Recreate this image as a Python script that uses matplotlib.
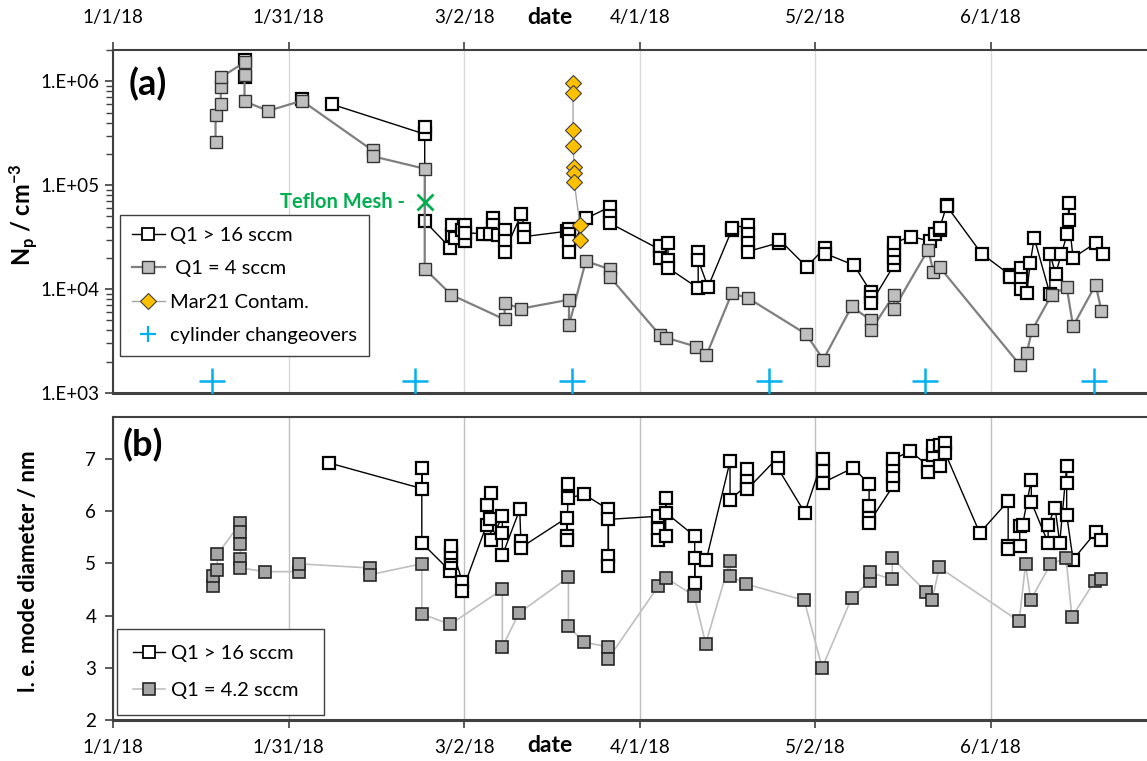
import matplotlib
matplotlib.use("Agg")
import matplotlib.pyplot as plt
import numpy as np
from matplotlib.lines import Line2D
from matplotlib.ticker import FixedLocator, LogLocator, NullFormatter

plt.rcParams['font.family'] = ['Lato', 'DejaVu Sans']
plt.rcParams['mathtext.default'] = 'regular'

nan = np.nan

# x values are days after 1/1/18 (Excel major unit ~30.3 days)
tick_days = [0, 30.3, 60.6, 90.9, 121.2, 151.5]
tick_labels = ['1/1/18', '1/31/18', '3/2/18', '4/1/18', '5/2/18', '6/1/18']

# (a) number concentration, Q1 > 16 sccm
np_hi_day = [22.7, 22.7, nan, 32.6, nan,
             37.8, 53.8, 53.8, 53.8,
             58.2, 58.5, 58.5, 59.0, 60.2, 60.7, 60.7, 60.7,
             63.9, 65.6, 65.6, 65.1, 66.4, 67.6, 67.6, 67.6,
             70.5, 71.0, 71.0, 78.3, 78.7, 78.7, 78.7, 78.7,
             81.7, 85.8, 85.8, 85.8,
             94.4, 94.4, 94.4, 95.8, 95.8, 95.8,
             101.0, 101.0, 101.0, 102.7, 106.8, 106.8,
             109.6, 109.6, 109.6, 109.6, 115.0, 115.0, 119.7,
             122.9, 122.9, 127.9, 130.8, 130.8, 130.8,
             134.8, 134.8, 134.8, 134.8, 137.8, 141.0, 141.8,
             142.7, 142.7, 143.9, 143.9, 149.9,
             154.8, 154.8, 156.8, 156.8, 156.8, 157.7, 158.3, 159.0,
             161.7, 161.7, 162.7, 163.7, 164.7, 165.0, 165.0, 165.7,
             169.7, 170.8]
np_hi_val = [1.6e6, 1.1e6, nan, 6.8e5, nan,
             6.0e5, 3.1e5, 3.6e5, 4.5e4,
             2.5e4, 3.3e4, 4.1e4, 3.1e4, 3.7e4, 2.9e4, 4.1e4, 3.5e4,
             3.4e4, 4.8e4, 4.1e4, 3.4e4, 3.3e4, 3.7e4, 2.9e4, 2.3e4,
             5.3e4, 3.8e4, 3.2e4, 3.6e4, 3.8e4, 3.4e4, 2.9e4, 2.3e4,
             4.8e4, 6.2e4, 5.1e4, 4.3e4,
             2.4e4, 2.6e4, 2.0e4, 2.8e4, 1.9e4, 1.6e4,
             1.02e4, 2.3e4, 1.9e4, 1.05e4, 3.7e4, 3.9e4,
             4.1e4, 3.4e4, 2.8e4, 2.3e4, 2.8e4, 3.0e4, 1.64e4,
             2.5e4, 2.2e4, 1.7e4, 9.4e3, 8.4e3, 7.3e3,
             1.7e4, 2.0e4, 2.4e4, 2.8e4, 3.2e4, 2.9e4, 3.4e4,
             3.7e4, 3.9e4, 6.4e4, 6.3e4, 2.2e4,
             1.37e4, 1.3e4, 1.6e4, 1.25e4, 1.0e4, 9.2e3, 1.77e4, 3.1e4,
             9.0e3, 2.2e4, 1.4e4, 2.2e4, 3.4e4, 6.7e4, 4.6e4, 2.0e4,
             2.8e4, 2.2e4]

# (a) number concentration, Q1 = 4 sccm
np_lo_day = [17.7, 17.7, 18.6, 18.6, 18.6, 22.7, 22.7, 22.7, 26.8, 32.6,
             44.8, 44.8, 53.8, 53.8, 58.4, 67.6, 67.6, 70.5, 78.7, 78.7,
             81.6, 85.8, 85.8, 94.4, 95.5, 100.6, 102.4, 106.8, 109.6,
             119.6, 122.6, 127.5, 130.8, 130.8, 134.8, 134.8,
             140.7, 141.6, 142.7, 156.5, 157.7, 158.6, 162.0, 164.6,
             165.7, 169.6, 170.6]
np_lo_val = [2.6e5, 4.7e5, 6.1e5, 8.9e5, 1.09e6, 1.52e6, 1.15e6, 6.4e5, 5.2e5, 6.5e5,
             2.16e5, 1.9e5, 1.44e5, 1.57e4, 8.8e3, 5.1e3, 7.3e3, 6.5e3, 7.9e3, 4.5e3,
             1.86e4, 1.55e4, 1.3e4, 3.6e3, 3.4e3, 2.8e3, 2.3e3, 9.1e3, 8.2e3,
             3.7e3, 2.1e3, 6.8e3, 5.0e3, 4.0e3, 8.8e3, 6.5e3,
             2.4e4, 1.47e4, 1.62e4, 1.87e3, 2.4e3, 4.0e3, 8.8e3, 1.05e4,
             4.4e3, 1.1e4, 6.2e3]

# Mar21 contamination
contam_day = [79.4, 79.4, 79.4, 79.4, 79.6, 79.6, 79.6, 80.6, 80.6]
contam_val = [9.6e5, 7.7e5, 3.4e5, 2.4e5, 1.48e5, 1.32e5, 1.07e5, 4.1e4, 3.0e4]

# cylinder changeovers
cyl_day = [17.1, 52.1, 79.2, 113.2, 140.2, 169.3]
cyl_val = [1.3e3] * 6

teflon_day = 53.8
teflon_val = 6.9e4

# (b) mode diameter, Q1 > 16 sccm
d_hi_day = [37.3, 53.3, 53.3, 53.3, 58.2, 58.4, 58.4, 58.4, 58.4, 60.3, 60.3,
            64.5, 64.5, 65.3, 65.0, 65.3, 67.2, 67.2, 67.2, 70.2, 70.4, 70.4,
            78.3, 78.3, 78.3, 78.6, 78.6, 81.3, 85.5, 85.5, 85.5, 85.5,
            94.1, 94.1, 94.1, 95.4, 95.4, 95.4, 100.4, 100.4, 100.4, 102.4,
            106.5, 106.5, 109.5, 109.5, 109.5, 109.5, 114.7, 114.7, 119.4,
            122.5, 122.5, 122.5, 127.8, 130.5, 130.5, 130.5, 130.5,
            134.7, 134.7, 134.7, 134.7, 137.6, 140.7, 140.7, 141.5, 141.5,
            142.7, 142.7, 143.6, 143.6, 149.6, 154.5, 154.5, 154.5,
            156.5, 156.5, 157.0, 158.5, 158.5, 161.4, 161.4, 162.6, 163.4,
            164.6, 164.6, 164.6, 165.7, 169.6, 170.5]
d_hi_val = [6.92, 6.43, 6.83, 5.39, 4.85, 5.0, 5.13, 5.2, 5.33, 4.64, 4.47,
            5.74, 6.12, 6.34, 5.84, 5.45, 5.9, 5.58, 5.15, 6.03, 5.42, 5.3,
            5.87, 5.52, 5.44, 6.51, 6.25, 6.32, 6.03, 5.13, 4.94, 5.84,
            5.9, 5.65, 5.45, 5.52, 6.25, 5.97, 5.52, 4.62, 5.1, 5.07,
            6.95, 6.22, 6.5, 6.6, 6.8, 6.42, 7.02, 6.83, 5.97,
            6.99, 6.76, 6.54, 6.83, 6.51, 6.09, 5.87, 5.78,
            6.49, 6.68, 6.87, 6.99, 7.15, 6.86, 6.74, 7.08, 7.24,
            6.86, 7.27, 7.31, 7.12, 5.58, 6.19, 5.33, 5.27,
            5.33, 5.71, 5.74, 6.6, 6.17, 5.39, 5.74, 6.06, 5.39,
            6.86, 6.54, 5.93, 5.07, 5.59, 5.45]

# (b) mode diameter, Q1 = 4.2 sccm
d_lo_day = [17.3, 17.3, 18.0, 18.0, 22.0, 22.0, 22.0, 22.0, 22.0, 26.3,
            32.1, 32.1, 44.3, 44.3, 53.3, 53.3, 58.2, 67.2, 67.2, 70.1,
            78.6, 78.6, 81.3, 85.4, 85.4, 94.1, 95.4, 100.3, 102.3,
            106.5, 106.5, 109.3, 119.3, 122.4, 127.5, 130.6, 130.6,
            134.5, 134.5, 140.4, 141.4, 142.6, 156.4, 157.5, 158.4,
            161.8, 164.5, 165.5, 169.5, 170.5]
d_lo_val = [4.56, 4.76, 4.88, 5.17, 5.77, 5.59, 5.36, 5.08, 4.91, 4.84,
            4.84, 4.99, 4.91, 4.78, 4.99, 4.03, 3.83, 4.5, 3.4, 4.05,
            4.73, 3.79, 3.49, 3.4, 3.16, 4.56, 4.72, 4.38, 3.46,
            5.05, 4.76, 4.6, 4.29, 3.0, 4.34, 4.66, 4.83,
            4.69, 5.1, 4.45, 4.3, 4.92, 3.89, 4.98, 4.3,
            4.98, 5.1, 3.97, 4.67, 4.69]

W, H = 1147, 761
fig = plt.figure(figsize=(W / 100, H / 100), dpi=100)
ax1 = fig.add_axes([113 / W, 1 - 393 / H, 1040 / W, 343 / H])
ax2 = fig.add_axes([113 / W, 1 - 720 / H, 1040 / W, 303 / H])

spine_col = '#404040'
hi_style = dict(color='black', lw=1.0, marker='s', ms=9, mfc='white', mec='black', mew=1.6)

# ---- panel (a)
ax1.plot(np_hi_day, np_hi_val, zorder=3, **hi_style)
ax1.plot(np_lo_day, np_lo_val, color='#7F7F7F', lw=1.6, marker='s', ms=9,
         mfc='#BFBFBF', mec='#333333', mew=1.0, zorder=4)
ax1.plot(contam_day, contam_val, color='#A6A6A6', lw=1.0, marker='D', ms=8,
         mfc='#FFC000', mec='#404040', mew=0.8, zorder=5)
ax1.plot(cyl_day, cyl_val, ls='none', marker='+', ms=19, mew=1.8, color='#00B0F0', zorder=5)
ax1.plot([teflon_day], [teflon_val], ls='none', marker='x', ms=11, mew=2, color='#00B050', zorder=6)
ax1.text(50.4, teflon_val, 'Teflon Mesh -', color='#00B050', fontsize=14.5, fontweight='bold',
         ha='right', va='center')

ax1.set_yscale('log')
ax1.set_ylim(1e3, 2e6)
ax1.set_xlim(0, 179.5)
ax1.yaxis.set_major_locator(FixedLocator([1e3, 1e4, 1e5, 1e6]))
ax1.set_yticklabels(['1.E+03', '1.E+04', '1.E+05', '1.E+06'])
ax1.yaxis.set_minor_locator(LogLocator(base=10, subs=np.arange(2, 10)))
ax1.yaxis.set_minor_formatter(NullFormatter())
ax1.set_xticks(tick_days)
ax1.set_xticklabels(tick_labels)
ax1.xaxis.tick_top()
ax1.tick_params(axis='x', which='both', direction='out', length=6, width=1.2,
                color=spine_col, pad=11, labelsize=13.5)
ax1.tick_params(axis='y', which='major', direction='out', length=6, width=1.2,
                color=spine_col, pad=4, labelsize=13.5)
ax1.tick_params(axis='y', which='minor', direction='out', length=5, width=1.0, color=spine_col)
ax1.grid(True, axis='x', color='#D9D9D9', lw=1.0)
ax1.set_axisbelow(True)
ax1.spines['right'].set_visible(False)
ax1.spines['top'].set_color(spine_col)
ax1.spines['top'].set_linewidth(1.5)
ax1.spines['left'].set_color(spine_col)
ax1.spines['left'].set_linewidth(1.5)
ax1.spines['bottom'].set_color(spine_col)
ax1.spines['bottom'].set_linewidth(2.2)
ax1.set_ylabel('N$_p$ / cm$^{-3}$', fontsize=17, fontweight='bold')
ax1.yaxis.set_label_coords(-0.07, 0.52)
ax1.text(0.015, 0.902, '(a)', transform=ax1.transAxes, fontsize=26, fontweight='bold',
         ha='left', va='center')

leg_a = [
    Line2D([], [], color='black', lw=1.0, marker='s', ms=9, mfc='white', mec='black', mew=1.3),
    Line2D([], [], color='#7F7F7F', lw=1.6, marker='s', ms=9, mfc='#BFBFBF', mec='#333333', mew=1.0),
    Line2D([], [], color='#A6A6A6', lw=1.0, marker='D', ms=8, mfc='#FFC000', mec='#404040', mew=0.8),
    Line2D([], [], ls='none', marker='+', ms=11, mew=1.6, color='#00B0F0'),
]
lg1 = ax1.legend(leg_a, ['Q1 > 16 sccm', ' Q1 = 4 sccm', 'Mar21 Contam.', 'cylinder changeovers'],
                 loc='lower left', bbox_to_anchor=(0.007, 0.108), borderaxespad=0,
                 fontsize=14.5, frameon=True, fancybox=False, framealpha=1, edgecolor='#404040',
                 handlelength=1.6, handletextpad=0.25, labelspacing=0.8, borderpad=0.6)
lg1.get_frame().set_linewidth(1.0)
fig.text(550 / W, 1 - 18 / H, 'date', fontsize=16.5, fontweight='bold', ha='center', va='center')

# ---- panel (b)
ax2.plot(d_hi_day, d_hi_val, zorder=3, **hi_style)
ax2.plot(d_lo_day, d_lo_val, color='#BFBFBF', lw=1.2, marker='s', ms=9,
         mfc='#A6A6A6', mec='#262626', mew=1.2, zorder=4)
ax2.set_xlim(0, 179.5)
ax2.set_ylim(2, 7.8)
ax2.set_yticks([2, 3, 4, 5, 6, 7])
ax2.set_xticks(tick_days)
ax2.set_xticklabels(tick_labels)
ax2.tick_params(axis='x', direction='out', length=6, width=1.2, color=spine_col, pad=8, labelsize=13.5)
ax2.tick_params(axis='y', direction='out', length=6, width=1.2, color=spine_col, pad=6, labelsize=13.5)
ax2.grid(True, axis='x', color='#BFBFBF', lw=1.0)
ax2.set_axisbelow(True)
ax2.spines['right'].set_visible(False)
for s in ['top', 'left', 'bottom']:
    ax2.spines[s].set_color(spine_col)
    ax2.spines[s].set_linewidth(1.5)
ax2.spines['bottom'].set_linewidth(2.2)
ax2.set_ylabel('l. e. mode diameter / nm', fontsize=16, fontweight='bold')
ax2.yaxis.set_label_coords(-0.071, 0.49)
ax2.text(0.009, 0.906, '(b)', transform=ax2.transAxes, fontsize=26, fontweight='bold',
         ha='left', va='center')

leg_b = [
    Line2D([], [], color='black', lw=1.0, marker='s', ms=9, mfc='white', mec='black', mew=1.3),
    Line2D([], [], color='#BFBFBF', lw=1.2, marker='s', ms=9, mfc='#A6A6A6', mec='#262626', mew=1.2),
]
lg2 = ax2.legend(leg_b, ['Q1 > 16 sccm', 'Q1 = 4.2 sccm  '], loc='lower left',
                 bbox_to_anchor=(0.004, 0.015), borderaxespad=0, fontsize=14.5,
                 frameon=True, fancybox=False, framealpha=1, edgecolor='#404040',
                 handlelength=1.6, handletextpad=0.25, labelspacing=1.0, borderpad=0.8)
lg2.get_frame().set_linewidth(1.0)
fig.text(550 / W, 1 - 745 / H, 'date', fontsize=16.5, fontweight='bold', ha='center', va='center')

fig.savefig('out.png', dpi=100)
